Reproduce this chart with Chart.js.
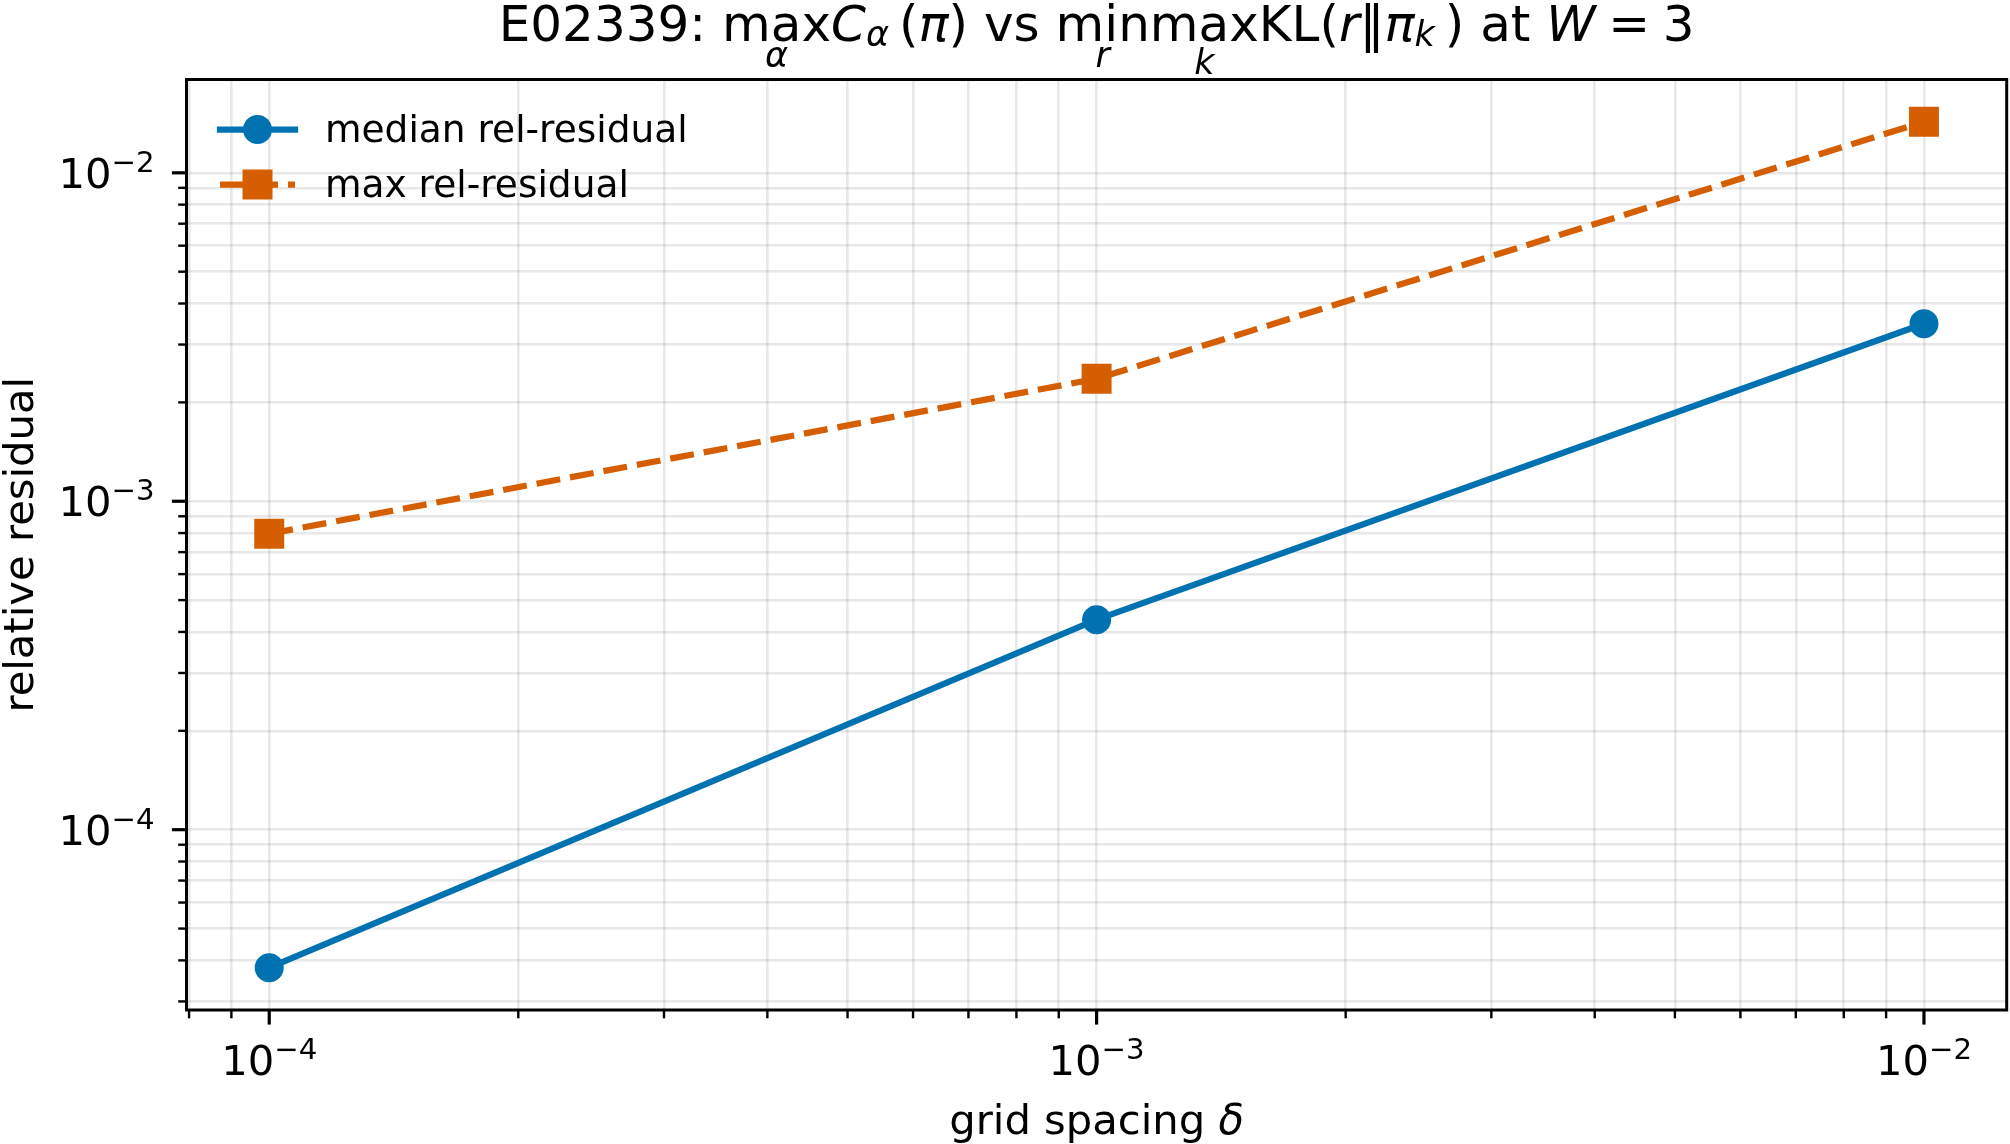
<!DOCTYPE html>
<html><head><meta charset="utf-8">
<script src="https://cdn.jsdelivr.net/npm/chart.js@4/dist/chart.umd.min.js"></script>
<style>html,body{margin:0;padding:0;background:#fff}canvas{display:block}</style>
</head><body>
<canvas id="c" width="2010" height="1144"></canvas>
<script>
// ---- data ----
const gridSpacing = [1e-4, 1e-3, 1e-2];
const medianResidual = [3.80e-5, 4.36e-4, 3.47e-3];
const maxResidual = [7.96e-4, 2.36e-3, 1.43e-2];
const seriesLabels = ['median rel-residual', 'max rel-residual'];
const xTickLabels = ['10^−4', '10^−3', '10^−2'];
const yTickLabels = ['10^−4', '10^−3', '10^−2'];
const xAxisLabel = ['grid spacing ', 'δ'];
const yAxisLabel = 'relative residual';
const titleRuns = [
  {t: 'E02339: '},
  {t: 'max', under: 'α'},
  {t: 'C', it: true, sub: 'α'},
  {gap: 0.2},
  {t: '('}, {t: 'π', it: true}, {t: ')'},
  {t: ' vs '},
  {t: 'min', under: 'r'}, {t: 'max', under: 'k'},
  {t: 'KL('}, {t: 'r', it: true}, {t: '‖'}, {t: 'π', it: true, sub: 'k'}, {gap: 0.2}, {t: ')'},
  {t: ' at '}, {t: 'W', it: true}, {gap: 0.25}, {t: '='}, {gap: 0.25}, {t: '3'}
];

const BLUE = '#0072B2', ORANGE = '#D55E00';
const FAM = '"DejaVu Sans"';
const F = (s, it) => (it ? 'italic ' : '') + s + 'px ' + FAM;
const TICK_FS = 41.7, SUP_FS = 29.2, LEG_FS = 37.5, TITLE_FS = 50;

const lg = v => Math.log10(v);
function padRange(vals, frac) {
  const l = vals.map(lg); const lo = Math.min(...l), hi = Math.max(...l);
  const m = (hi - lo) * frac;
  return [Math.pow(10, lo - m), Math.pow(10, hi + m)];
}
const [xMin, xMax] = padRange(gridSpacing, 0.05);
const [yMin, yMax] = padRange(medianResidual.concat(maxResidual), 0.05);

function logTicks(min, max) {
  const out = [];
  for (let e = Math.floor(lg(min)) - 1; e <= Math.ceil(lg(max)) + 1; e++) {
    for (let m = 1; m <= 9; m++) {
      const v = m * Math.pow(10, e);
      if (v >= min * (1 - 1e-9) && v <= max * (1 + 1e-9)) out.push({value: v, major: m === 1});
    }
  }
  return out;
}

function drawPow(ctx, label, x, yBase, align) {
  const [b, e] = label.split('^');
  ctx.font = F(TICK_FS); const w1 = ctx.measureText(b).width;
  ctx.font = F(SUP_FS); const w2 = ctx.measureText(e).width;
  const total = w1 + w2;
  const left = align === 'center' ? x - total / 2 : x - total;
  ctx.textAlign = 'left'; ctx.textBaseline = 'alphabetic';
  ctx.font = F(TICK_FS); ctx.fillText(b, left, yBase);
  ctx.font = F(SUP_FS); ctx.fillText(e, left + w1, yBase - 16);
}

const mplPlugin = {
  id: 'mpl',
  afterDraw(chart) {
    const ctx = chart.ctx, ca = chart.chartArea;
    const xs = chart.scales.x, ys = chart.scales.y;
    ctx.save();
    ctx.fillStyle = '#000'; ctx.strokeStyle = '#000';
    // spines
    ctx.lineWidth = 3;
    ctx.strokeRect(ca.left, ca.top, ca.right - ca.left, ca.bottom - ca.top);
    // tick marks
    for (const t of xs.ticks) {
      const x = xs.getPixelForValue(t.value);
      ctx.lineWidth = t.major ? 3.2 : 2.4;
      ctx.beginPath(); ctx.moveTo(x, ca.bottom); ctx.lineTo(x, ca.bottom + (t.major ? 14.6 : 8.3)); ctx.stroke();
    }
    for (const t of ys.ticks) {
      const y = ys.getPixelForValue(t.value);
      ctx.lineWidth = t.major ? 3.2 : 2.4;
      ctx.beginPath(); ctx.moveTo(ca.left, y); ctx.lineTo(ca.left - (t.major ? 14.6 : 8.3), y); ctx.stroke();
    }
    // tick labels
    xTickLabels.forEach((lab, i) => {
      const x = xs.getPixelForValue(Math.pow(10, -4 + i));
      drawPow(ctx, lab, x, ca.bottom + 65, 'center');
    });
    yTickLabels.forEach((lab, i) => {
      const y = ys.getPixelForValue(Math.pow(10, -4 + i));
      drawPow(ctx, lab, ca.left - 32, y + 15, 'right');
    });
    // axis labels
    ctx.font = F(TICK_FS);
    const w1 = ctx.measureText(xAxisLabel[0]).width;
    ctx.font = F(TICK_FS, true);
    const w2 = ctx.measureText(xAxisLabel[1]).width;
    const cx = (ca.left + ca.right) / 2;
    ctx.textAlign = 'left'; ctx.textBaseline = 'alphabetic';
    ctx.font = F(TICK_FS); ctx.fillText(xAxisLabel[0], cx - (w1 + w2) / 2, 1134);
    ctx.font = F(TICK_FS, true); ctx.fillText(xAxisLabel[1], cx - (w1 + w2) / 2 + w1, 1134);
    ctx.save();
    ctx.translate(33, (ca.top + ca.bottom) / 2); ctx.rotate(-Math.PI / 2);
    ctx.font = F(TICK_FS); ctx.textAlign = 'center'; ctx.fillText(yAxisLabel, 0, 0);
    ctx.restore();
    // title
    const subFS = TITLE_FS * 0.7;
    let total = 0;
    const widths = titleRuns.map(r => {
      if (r.gap) return r.gap * TITLE_FS;
      ctx.font = F(TITLE_FS, r.it); let w = ctx.measureText(r.t).width;
      if (r.sub) { ctx.font = F(subFS, true); w += ctx.measureText(r.sub).width; }
      return w;
    });
    widths.forEach(w => total += w);
    let x = cx - total / 2; const base = 41;
    ctx.textAlign = 'left';
    titleRuns.forEach((r, i) => {
      if (r.gap) { x += widths[i]; return; }
      ctx.font = F(TITLE_FS, r.it); const bw = ctx.measureText(r.t).width;
      ctx.fillText(r.t, x, base);
      if (r.sub) { ctx.font = F(subFS, true); ctx.fillText(r.sub, x + bw, base + 5); }
      if (r.under) {
        ctx.font = F(subFS, true);
        const m = ctx.measureText(r.under);
        ctx.fillText(r.under, x + bw / 2 - m.width / 2, 47 + m.actualBoundingBoxAscent);
      }
      x += widths[i];
    });
    // legend
    const lx0 = 220, lx1 = 295, lmx = 257.5;
    const ly = [129.5, 184.5];
    ctx.lineWidth = 6.25;
    ctx.strokeStyle = BLUE; ctx.lineCap = 'square';
    ctx.beginPath(); ctx.moveTo(lx0, ly[0]); ctx.lineTo(lx1, ly[0]); ctx.stroke();
    ctx.fillStyle = BLUE; ctx.beginPath(); ctx.arc(lmx, ly[0], 14.5, 0, Math.PI * 2); ctx.fill();
    ctx.strokeStyle = ORANGE; ctx.lineCap = 'butt'; ctx.setLineDash([24, 10]);
    ctx.beginPath(); ctx.moveTo(lx0, ly[1]); ctx.lineTo(lx1, ly[1]); ctx.stroke();
    ctx.setLineDash([]);
    ctx.fillStyle = ORANGE; ctx.fillRect(lmx - 15, ly[1] - 15, 30, 30);
    ctx.fillStyle = '#000'; ctx.font = F(LEG_FS); ctx.textAlign = 'left'; ctx.textBaseline = 'alphabetic';
    ctx.fillText(seriesLabels[0], 325, ly[0] + 12.5);
    ctx.fillText(seriesLabels[1], 325, ly[1] + 12.5);
    ctx.restore();
  }
};

const GRID = 'rgba(128,128,128,0.18)';
function axisOpts(min, max, fit) {
  return {
    type: 'logarithmic', min, max, bounds: 'data',
    afterBuildTicks: s => { s.ticks = logTicks(min, max); },
    afterFit: fit,
    ticks: {display: false},
    grid: {color: GRID, lineWidth: 2.6, drawTicks: false},
    border: {display: false}
  };
}

new Chart(document.getElementById('c'), {
  type: 'scatter',
  data: {
    datasets: [
      {
        label: seriesLabels[0],
        data: gridSpacing.map((x, i) => ({x, y: medianResidual[i]})),
        showLine: true, borderColor: BLUE, backgroundColor: BLUE, borderWidth: 6.25,
        pointStyle: 'circle', pointRadius: 14.5, pointHoverRadius: 14.5, pointBorderWidth: 0
      },
      {
        label: seriesLabels[1],
        data: gridSpacing.map((x, i) => ({x, y: maxResidual[i]})),
        showLine: true, borderColor: ORANGE, backgroundColor: ORANGE, borderWidth: 6.25,
        borderDash: [24, 10],
        pointStyle: 'rect', pointRadius: 21.2, pointHoverRadius: 21.2, pointBorderWidth: 0
      }
    ]
  },
  options: {
    responsive: false, animation: false, devicePixelRatio: 1, events: [],
    layout: {autoPadding: false, padding: {top: 79.5, right: 3.3, left: 0, bottom: 0}},
    plugins: {legend: {display: false}, title: {display: false}, tooltip: {enabled: false}},
    scales: {
      x: axisOpts(xMin, xMax, s => { s.height = 134; }),
      y: axisOpts(yMin, yMax, s => { s.width = 186.5; })
    }
  },
  plugins: [mplPlugin]
});
</script>
</body></html>
